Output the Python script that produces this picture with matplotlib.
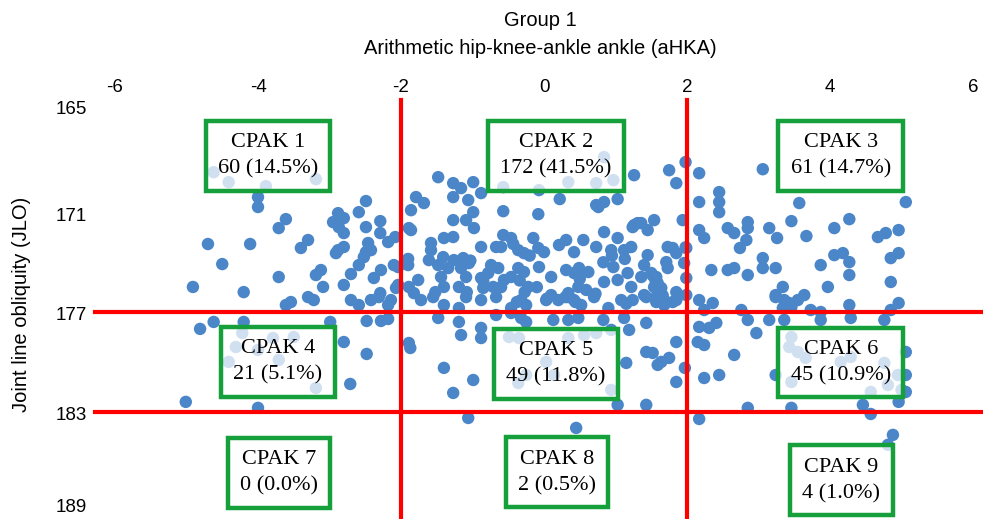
import matplotlib
matplotlib.use("Agg")
import matplotlib.pyplot as plt
import matplotlib.transforms as mtransforms

# ---------------- data ----------------
# aHKA (x) and JLO (y) per point, grouped by CPAK zone
cpak1_x = [-4.62, -4.41, -3.89, -3.19, -4.00, -4.00, -2.49, -2.59, -2.88, -2.80,
           -2.95, -2.87, -2.80, -3.61, -3.71, -2.49, -2.29, -2.29, -4.70, -4.11,
           -3.30, -3.40, -2.88, -2.80, -2.91, -2.46, -2.49, -2.42, -2.18, -2.08,
           -2.52, -2.59, -4.50, -3.12, -3.19, -3.09, -3.71, -2.70, -2.80, -2.28,
           -2.38, -2.10, -2.04, -2.29, -4.91, -4.20, -3.54, -3.30, -3.22, -2.70,
           -2.42, -2.14, -2.59, -2.18, -3.61, -2.07, -2.04, -2.31]
cpak1_y = [168.57, 169.17, 169.41, 168.99, 170.07, 170.67, 170.31, 170.98, 171.04, 171.34,
           171.58, 171.88, 172.24, 171.40, 171.94, 171.88, 171.52, 172.24, 172.90, 172.90,
           172.66, 173.14, 173.27, 173.08, 173.45, 172.84, 173.39, 173.27, 172.78, 172.48,
           173.69, 174.17, 174.11, 174.47, 174.77, 175.49, 174.89, 174.71, 175.37, 174.47,
           174.95, 174.17, 175.37, 175.86, 175.49, 175.80, 176.40, 176.10, 176.28, 176.28,
           176.28, 176.28, 176.58, 176.58, 176.58, 175.55, 174.29, 176.10]

cpak2_x = [-1.79, -1.86, -1.89, -1.89, -1.90, 0.84, 0.34, 0.73, 0.97, -0.57,
           -0.07, -1.48, -1.27, -1.16, -0.99, -0.88, -1.27, -1.06, -1.68, -0.57,
           -0.08, 0.22, 0.73, 0.84, 0.76, 1.03, 1.26, -1.27, -0.99, -1.09,
           -0.98, -1.86, -1.40, -1.27, -1.58, -1.58, -0.88, -0.67, -0.57, -0.46,
           -0.36, -0.28, -0.15, -0.08, 0.00, 0.21, 0.31, 0.42, 0.55, 0.73,
           0.84, 0.94, 1.03, 1.12, 1.22, 1.26, 1.36, 1.45, 1.54, 1.45,
           1.40, -1.61, -1.48, -1.41, -1.34, -1.44, -1.40, -1.26, -1.13, -1.16,
           -1.05, -1.09, -1.19, -0.88, -0.78, -0.74, -0.64, -0.85, -0.71, -0.56,
           -0.46, -0.36, -0.28, -0.22, -0.07, 0.10, 0.31, 0.42, 0.49, 0.62,
           0.48, 0.10, 0.34, 0.59, 0.84, 0.97, 1.03, 1.17, 1.36, 1.50,
           1.59, 1.22, 1.40, 1.57, -1.76, -1.82, -1.55, -1.72, 1.75, 1.85,
           1.98, 1.31, 1.24, 1.73, 1.80, 1.94, 1.85, 1.99, 1.71, 1.73,
           1.96, 1.57, 1.99, 1.64, 1.61, 1.85, 1.99, 1.68, -1.40, -1.19,
           -1.09, -0.88, -0.67, -0.46, -0.32, -0.25, 0.03, 0.20, 0.42, 0.52,
           0.70, 0.90, 1.08, 1.24, 1.43, 1.57, 1.68, 1.85, -0.60, 0.34,
           -0.43, -0.20, -1.52, -1.08, -0.60, -0.27, -0.10, 0.04, -0.38, -1.03,
           -0.85, -0.34, -1.90, 0.95, 1.13, 0.83, 0.50, 1.52, 1.56, 1.54,
           1.66, 1.80, 0.30, 0.44, 0.72, 1.15, 1.98]
cpak2_y = [170.07, 170.86, 171.94, 175.49, 174.17, 167.66, 169.17, 169.23, 169.05, 169.47,
           169.65, 168.87, 169.23, 169.53, 169.17, 169.83, 170.07, 170.25, 170.43, 170.92,
           171.10, 170.19, 170.55, 170.37, 170.67, 170.19, 168.75, 171.46, 170.98, 171.46,
           171.94, 172.06, 172.54, 172.48, 172.84, 173.27, 173.08, 173.08, 172.36, 172.54,
           173.27, 173.45, 172.54, 173.14, 173.39, 172.96, 172.66, 173.39, 172.66, 173.08,
           172.18, 173.27, 172.54, 173.27, 173.08, 171.76, 171.64, 172.06, 171.46, 173.57,
           174.17, 173.87, 174.17, 173.69, 174.35, 174.89, 175.49, 173.87, 173.75, 174.35,
           174.05, 174.89, 175.49, 174.95, 174.65, 174.17, 174.35, 175.55, 175.49, 175.07,
           174.89, 174.35, 174.59, 175.49, 174.29, 174.89, 174.47, 174.65, 174.35, 174.59,
           175.49, 175.98, 175.86, 175.67, 175.19, 174.29, 175.07, 174.65, 174.89, 174.65,
           175.25, 175.49, 175.98, 176.10, 175.07, 175.86, 176.10, 176.28, 168.45, 169.23,
           167.96, 171.64, 171.88, 173.08, 173.14, 171.46, 173.45, 173.14, 173.99, 174.35,
           174.05, 174.89, 174.95, 175.55, 176.10, 175.80, 175.98, 176.28, 176.58, 176.76,
           176.10, 176.28, 176.10, 176.76, 176.28, 176.58, 176.28, 176.28, 176.28, 176.58,
           176.10, 176.76, 176.28, 176.28, 176.10, 176.40, 176.58, 176.28, 173.08, 176.10,
           172.90, 173.60, 175.80, 175.80, 175.50, 175.80, 175.50, 176.20, 176.40, 173.90,
           175.10, 175.10, 173.80, 173.60, 173.80, 174.00, 175.00, 174.80, 175.10, 175.50,
           176.00, 176.40, 176.10, 176.40, 175.90, 176.50, 173.10]

cpak3_x = [2.17, 2.45, 2.45, 2.45, 2.17, 3.06, 3.57, 5.06, 4.27, 4.06,
           4.67, 4.78, 4.96, 3.46, 3.67, 3.15, 3.26, 2.57, 2.66, 2.85,
           2.85, 2.83, 2.74, 2.17, 2.24, 2.34, 2.57, 2.66, 2.85, 3.06,
           3.06, 3.24, 3.34, 3.24, 3.64, 3.87, 3.97, 4.06, 4.18, 4.27,
           4.27, 4.85, 4.96, 4.85, 4.96, 3.55, 3.43, 2.17, 2.36, 2.24,
           2.76, 3.24, 3.36, 3.34, 3.46, 3.73, 4.27, 4.85]
cpak3_y = [168.63, 169.77, 170.37, 170.98, 170.37, 168.39, 170.43, 170.37, 171.40, 171.94,
           172.48, 172.24, 172.06, 171.52, 172.42, 171.94, 172.54, 171.94, 172.24, 171.58,
           171.94, 172.66, 173.14, 172.06, 172.54, 174.47, 174.47, 174.35, 174.77, 173.75,
           174.35, 174.35, 175.49, 175.98, 175.98, 174.17, 175.49, 173.57, 173.45, 173.99,
           174.77, 173.75, 173.45, 175.19, 176.46, 176.28, 176.46, 176.28, 176.46, 176.88,
           176.88, 176.10, 176.28, 176.76, 176.70, 176.88, 176.58, 176.88]

cpak4_x = [-4.81, -4.62, -4.20, -2.99, -2.48, -2.28, -2.18, -2.80, -2.48, -2.71,
           -5.01, -4.00, -4.22, -4.31, -4.41, -4.00, -3.79, -3.71, -3.50, -3.19]
cpak4_y = [178.02, 177.60, 177.60, 177.60, 177.54, 177.54, 177.42, 178.81, 179.53, 181.34,
           182.42, 182.78, 178.27, 179.11, 180.01, 179.29, 178.57, 179.89, 178.51, 181.58]

cpak5_x = [-1.89, -1.87, -1.48, -1.19, -1.16, -0.88, -0.88, -0.67, -0.46, -0.32,
           -0.25, 0.13, 0.34, 0.48, 0.83, 1.12, 1.19, 1.43, -1.40, -0.99,
           -1.27, 1.43, 1.59, 1.15, 1.43, 1.03, -0.49, -0.35, 0.34, 0.73,
           0.94, 0.03, -0.25, 0.14, -0.36, 0.94, 0.56, 1.85, 1.52, 1.75,
           1.64, 1.97, 1.85]
cpak5_y = [178.87, 179.17, 177.36, 177.60, 178.39, 177.96, 178.57, 177.18, 177.06, 177.36,
           177.60, 177.48, 177.48, 177.36, 177.48, 177.36, 178.08, 177.66, 180.37, 181.10,
           181.88, 179.41, 180.19, 180.07, 182.60, 182.60, 178.51, 178.57, 178.57, 178.27,
           178.08, 180.01, 180.80, 180.80, 181.28, 181.70, 178.39, 178.81, 179.47, 179.77,
           180.01, 180.37, 181.22]

cpak6_x = [2.17, 2.31, 2.41, 2.15, 2.24, 2.85, 3.15, 3.36, 3.87, 3.87,
           4.29, 4.76, 2.66, 2.97, 2.24, 2.45, 3.24, 3.46, 3.43, 3.55,
           3.66, 3.46, 4.15, 4.29, 4.76, 4.95, 4.57, 4.81, 5.06, 5.06,
           5.06, 4.96, 2.85, 3.46, 4.46, 5.00]
cpak6_y = [177.90, 177.96, 177.66, 178.81, 178.99, 177.48, 177.48, 177.48, 177.00, 177.48,
           177.36, 177.48, 179.59, 178.27, 180.98, 180.80, 180.80, 178.51, 179.11, 179.41,
           179.77, 181.22, 180.01, 179.71, 180.07, 180.80, 181.82, 181.40, 179.41, 180.80,
           181.82, 182.42, 182.78, 182.78, 182.60, 181.70]

cpak8_x = [0.45, -1.06]
cpak8_y = [183.99, 183.39]

cpak9_x = [2.17, 4.88, 4.81, 4.57]
cpak9_y = [183.45, 184.41, 185.01, 183.15]

# zone labels
zone_names = ["CPAK 1", "CPAK 2", "CPAK 3", "CPAK 4", "CPAK 5",
              "CPAK 6", "CPAK 7", "CPAK 8", "CPAK 9"]
zone_counts = ["60 (14.5%)", "172 (41.5%)", "61 (14.7%)", "21 (5.1%)", "49 (11.8%)",
               "45 (10.9%)", "0 (0.0%)", "2 (0.5%)", "4 (1.0%)"]
label_x = [-3.86, 0.17, 4.15, -3.72, 0.17, 4.15, -3.71, 0.18, 4.16]
label_y = [167.60, 167.60, 167.60, 180.01, 180.13, 180.04, 186.70, 186.67, 187.15]

# zone boundaries
ahka_cuts = [-2, 2]
jlo_cuts = [177, 183]

x_ticks = [-6, -4, -2, 0, 2, 4, 6]
y_ticks = [165, 171, 177, 183, 189]
y_label_nudge_px = [5, -2, -1, -2, 5]   # small vertical shifts of the y tick labels

# ---------------- drawing ----------------
plt.rcParams["font.family"] = ["Liberation Sans", "DejaVu Sans"]

fig = plt.figure(figsize=(9.83, 5.19), dpi=100)
ax = fig.add_axes([115 / 983, 1 - 511 / 519, 858 / 983, 398 / 519])
ax.set_xlim(-6, 6)
ax.set_ylim(189, 165)
for s in ax.spines.values():
    s.set_visible(False)

ax.xaxis.tick_top()
ax.set_xticks(x_ticks)
ax.set_xticklabels([str(v) for v in x_ticks])
ax.set_yticks(y_ticks)
ax.set_yticklabels([str(v) for v in y_ticks])
ax.tick_params(axis="x", length=0, pad=12, labelsize=13.5)
ax.tick_params(axis="y", length=0, pad=20, labelsize=13.5)
for lab, dy in zip(ax.get_yticklabels(), y_label_nudge_px):
    lab.set_transform(lab.get_transform() +
                      mtransforms.ScaledTranslation(0, dy / 100, fig.dpi_scale_trans))

all_x = cpak1_x + cpak2_x + cpak3_x + cpak4_x + cpak5_x + cpak6_x + cpak8_x + cpak9_x
all_y = cpak1_y + cpak2_y + cpak3_y + cpak4_y + cpak5_y + cpak6_y + cpak8_y + cpak9_y
ax.scatter(all_x, all_y, s=80, color="#4a86c8", edgecolors="none", zorder=2, clip_on=False)

red = "#ff0000"
tx = mtransforms.blended_transform_factory(ax.transData, ax.transAxes)
ty = mtransforms.blended_transform_factory(ax.transAxes, ax.transData)
for c in ahka_cuts:
    ax.plot([c, c], [-0.03, 1.033], transform=tx, color=red, lw=3, clip_on=False, zorder=3)
for c in jlo_cuts:
    ax.plot([-0.023, 1.02], [c, c], transform=ty, color=red, lw=3, clip_on=False, zorder=3)

green = "#16a03c"
for name, cnt, lx, ly in zip(zone_names, zone_counts, label_x, label_y):
    ax.text(lx, ly, name + "\n" + cnt, ha="center", va="center",
            family=["Liberation Serif", "DejaVu Serif"], fontsize=16, linespacing=1.5,
            zorder=4,
            bbox=dict(boxstyle="square,pad=0.55", fc=(1, 1, 1, 0.75), ec=green, lw=3.2))

fig.text(540 / 983, 1 - 20 / 519, "Group 1", ha="center", va="center", fontsize=14.5)
fig.text(540 / 983, 1 - 48 / 519, "Arithmetic hip-knee-ankle ankle (aHKA)",
         ha="center", va="center", fontsize=14.5)
fig.text(22 / 983, 1 - 304 / 519, "Joint line obliquity (JLO)", ha="center", va="center",
         rotation=90, fontsize=14.5)

fig.savefig("out.png", dpi=100)
